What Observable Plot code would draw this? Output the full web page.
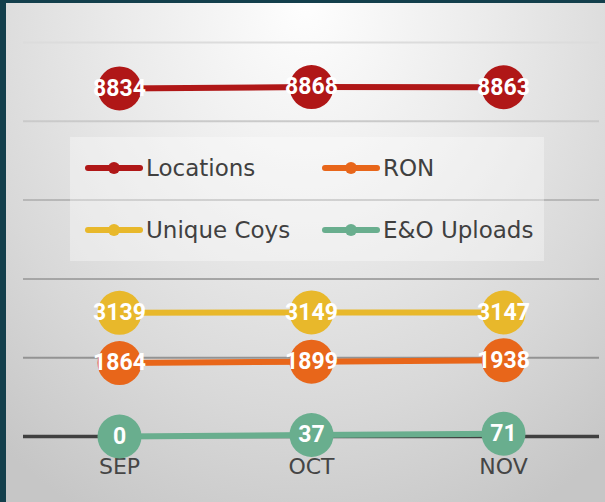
<!DOCTYPE html>
<html><head><meta charset="utf-8">
<script src="https://cdn.jsdelivr.net/npm/d3@7"></script>
<script src="https://cdn.jsdelivr.net/npm/@observablehq/plot@0.6"></script>
<style>
html,body{margin:0;padding:0;background:#133f4c;}
#frame{position:relative;width:605px;height:502px;overflow:hidden;background:#133f4c;}
#panel{position:absolute;left:6px;top:3px;width:599px;height:499px;
  background:radial-gradient(ellipse 80% 115% at 50% 0%, #fefefe 0%, #ebebeb 38%, #d8d8d8 72%, #c6c6c6 100%);}
#chart{position:absolute;left:0;top:0;}
#legend{position:absolute;left:64px;top:134px;width:474px;height:124px;background:rgba(255,255,255,0.35);
  display:grid;grid-template-columns:237px 237px;grid-template-rows:62px 62px;
  font-family:"DejaVu Sans",sans-serif;font-size:23px;color:#404040;}
.item{display:flex;align-items:center;padding-left:15px;}
.item svg{margin-right:3px;flex:none;}
</style>
</head><body>
<div id="frame"><div id="panel"><div id="chart"></div><div id="legend"></div></div></div>
<script>
const months = ["SEP", "OCT", "NOV"];
const seriesNames = ["Locations", "RON", "Unique Coys", "E&O Uploads"];
const locations = [8834, 8868, 8863];
const ron = [1864, 1899, 1938];
const uniqueCoys = [3139, 3149, 3147];
const eoUploads = [0, 37, 71];
const seriesColors = ["#b01717", "#e8661a", "#e8b82b", "#69ae8e"];
const gridTicks = [2000, 4000, 6000, 8000, 10000];

const seriesValues = [locations, ron, uniqueCoys, eoUploads];
const data = [];
seriesNames.forEach((s, i) => months.forEach((m, j) => data.push({series: s, month: m, value: seriesValues[i][j]})));

const labelFont = '"Liberation Sans Narrow", "Roboto", sans-serif';

const svg = Plot.plot({
  width: 599, height: 499,
  marginLeft: 17, marginRight: 6, marginTop: 39, marginBottom: 66,
  style: {background: "transparent", fontFamily: '"DejaVu Sans", sans-serif', fontSize: "22px", color: "#454545"},
  x: {type: "point", domain: months, padding: 0.5, label: null},
  y: {domain: [0, 10000], axis: null},
  color: {domain: seriesNames, range: seriesColors},
  marks: [
    Plot.ruleY(gridTicks, {stroke: "url(#gridGrad)", strokeWidth: 2}),
    Plot.ruleY([0], {stroke: "#404040", strokeWidth: 3.5}),
    Plot.axisX({tickSize: 0, tickPadding: 22, label: null}),
    Plot.line(data, {x: "month", y: "value", z: "series", stroke: "series", strokeWidth: 6}),
    Plot.dot(data, {x: "month", y: "value", fill: "series", r: 22}),
    Plot.text(data, {x: "month", y: "value", text: d => String(d.value), fill: "white",
      fontWeight: "bold", fontSize: 23, fontFamily: labelFont})
  ]
});
const defs = d3.select(svg).insert("defs", ":first-child");
const grad = defs.append("linearGradient").attr("id", "gridGrad").attr("gradientUnits", "userSpaceOnUse")
  .attr("x1", 0).attr("y1", 0).attr("x2", 0).attr("y2", 499);
grad.append("stop").attr("offset", "0.078").attr("stop-color", "#dcdcdc");
grad.append("stop").attr("offset", "0.71").attr("stop-color", "#939393");
document.getElementById("chart").appendChild(svg);

const legend = d3.select("#legend");
seriesNames.forEach((s, i) => {
  const it = legend.append("div").attr("class", "item");
  const sw = it.append("svg").attr("width", 58).attr("height", 14);
  sw.append("line").attr("x1", 3).attr("x2", 55).attr("y1", 7).attr("y2", 7)
    .attr("stroke", seriesColors[i]).attr("stroke-width", 6).attr("stroke-linecap", "round");
  sw.append("circle").attr("cx", 29).attr("cy", 7).attr("r", 6).attr("fill", seriesColors[i]);
  it.append("span").text(s);
});
</script>
</body></html>
